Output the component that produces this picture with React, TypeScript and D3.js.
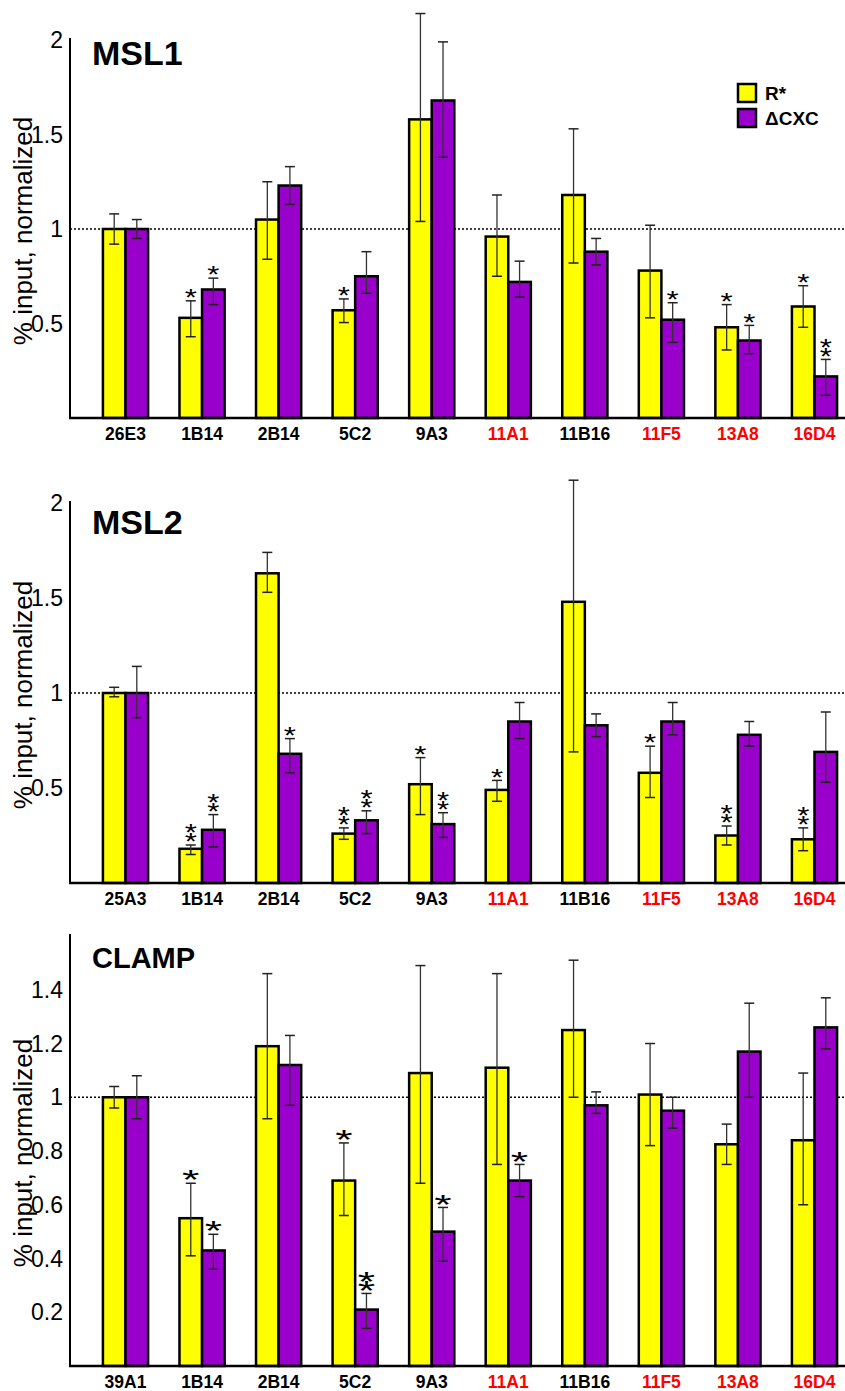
import { useEffect, useRef } from 'react'
import * as d3 from 'd3'

// Sites (x categories) of every panel
const sitesMSL1 = ['26E3', '1B14', '2B14', '5C2', '9A3', '11A1', '11B16', '11F5', '13A8', '16D4']
const sitesMSL2 = ['25A3', '1B14', '2B14', '5C2', '9A3', '11A1', '11B16', '11F5', '13A8', '16D4']
const sitesCLAMP = ['39A1', '1B14', '2B14', '5C2', '9A3', '11A1', '11B16', '11F5', '13A8', '16D4']
const redSites = ['11A1', '11F5', '13A8', '16D4']

// MSL1
const msl1R = [1.0, 0.53, 1.05, 0.57, 1.58, 0.96, 1.18, 0.78, 0.48, 0.59]
const msl1RErr = [[0.92, 1.08], [0.43, 0.62], [0.84, 1.25], [0.505, 0.63], [1.04, 2.14], [0.75, 1.18], [0.82, 1.53], [0.53, 1.02], [0.36, 0.6], [0.48, 0.7]]
const msl1C = [1.0, 0.68, 1.23, 0.75, 1.68, 0.72, 0.88, 0.52, 0.41, 0.22]
const msl1CErr = [[0.95, 1.05], [0.6, 0.74], [1.13, 1.33], [0.66, 0.88], [1.38, 1.99], [0.64, 0.83], [0.81, 0.95], [0.4, 0.61], [0.34, 0.49], [0.12, 0.31]]
const msl1RStars = [0, 1, 0, 1, 0, 0, 0, 0, 1, 1]
const msl1CStars = [0, 1, 0, 0, 0, 0, 0, 1, 1, 2]

// MSL2
const msl2R = [1.0, 0.18, 1.63, 0.26, 0.52, 0.49, 1.48, 0.58, 0.25, 0.23]
const msl2RErr = [[0.98, 1.03], [0.15, 0.2], [1.53, 1.74], [0.23, 0.29], [0.36, 0.66], [0.43, 0.54], [0.69, 2.12], [0.45, 0.72], [0.2, 0.3], [0.17, 0.29]]
const msl2C = [1.0, 0.28, 0.68, 0.33, 0.31, 0.85, 0.83, 0.85, 0.78, 0.69]
const msl2CErr = [[0.87, 1.14], [0.19, 0.36], [0.58, 0.76], [0.26, 0.38], [0.24, 0.37], [0.76, 0.95], [0.77, 0.89], [0.78, 0.95], [0.72, 0.85], [0.53, 0.9]]
const msl2RStars = [0, 2, 0, 2, 1, 1, 0, 1, 2, 2]
const msl2CStars = [0, 2, 1, 2, 2, 0, 0, 0, 0, 0]

// CLAMP
const clampR = [1.0, 0.55, 1.19, 0.69, 1.09, 1.11, 1.25, 1.01, 0.825, 0.84]
const clampRErr = [[0.96, 1.04], [0.41, 0.68], [0.92, 1.46], [0.56, 0.83], [0.68, 1.49], [0.75, 1.46], [1.0, 1.51], [0.82, 1.2], [0.75, 0.9], [0.6, 1.09]]
const clampC = [1.0, 0.43, 1.12, 0.21, 0.5, 0.69, 0.97, 0.95, 1.17, 1.26]
const clampCErr = [[0.92, 1.08], [0.36, 0.49], [0.97, 1.23], [0.14, 0.27], [0.39, 0.59], [0.63, 0.75], [0.94, 1.02], [0.885, 1.0], [1.0, 1.35], [1.18, 1.37]]
const clampRStars = [0, 1, 0, 1, 0, 0, 0, 0, 0, 0]
const clampCStars = [0, 1, 0, 2, 1, 1, 0, 0, 0, 0]

// Tick values
const ticksMSL = [0.5, 1, 1.5, 2]
const ticksCLAMP = [0.2, 0.4, 0.6, 0.8, 1, 1.2, 1.4]

const legendLabels = ['R*', '\u0394CXC']
const COLORS = ['#ffff00', '#9900cc']
const FONT = 'Arial, "Liberation Sans", Helvetica, sans-serif'

const W = 845
const H = 1391

const panels = [
  { title: 'MSL1', titleSize: 34, titleY: 65, sites: sitesMSL1, r: msl1R, rErr: msl1RErr, c: msl1C, cErr: msl1CErr, rStars: msl1RStars, cStars: msl1CStars, ticks: ticksMSL, yMax: 2, y0: 418, y1: 40, starSize: 24, starSx: 1.3, legend: true },
  { title: 'MSL2', titleSize: 34, titleY: 534, sites: sitesMSL2, r: msl2R, rErr: msl2RErr, c: msl2C, cErr: msl2CErr, rStars: msl2RStars, cStars: msl2CStars, ticks: ticksMSL, yMax: 2, y0: 883, y1: 503, starSize: 24, starSx: 1.3, legend: false },
  { title: 'CLAMP', titleSize: 29, titleY: 968, sites: sitesCLAMP, r: clampR, rErr: clampRErr, c: clampC, cErr: clampCErr, rStars: clampRStars, cStars: clampCStars, ticks: ticksCLAMP, yMax: 1.6, y0: 1366, y1: 936, starSize: 28, starSx: 1.6, legend: false },
]

const App = () => {
  const svgRef = useRef(null)

  useEffect(() => {
    const svg = d3.select(svgRef.current)
    svg.selectAll('*').remove()
    const axisX = 70

    panels.forEach((p) => {
      const g = svg.append('g')
      const x = d3.scaleBand().domain(p.sites).range([axisX, 870]).paddingInner(0.41).paddingOuter(0.43)
      const sub = d3.scaleBand().domain(['r', 'c']).range([0, x.bandwidth()])
      const y = d3.scaleLinear().domain([0, p.yMax]).range([p.y0, p.y1])

      // reference line at 1
      g.append('line')
        .attr('x1', axisX).attr('x2', W)
        .attr('y1', y(1)).attr('y2', y(1))
        .attr('stroke', '#000').attr('stroke-width', 1.6)
        .attr('stroke-dasharray', '2,2')

      const series = [
        { key: 'r', vals: p.r, err: p.rErr, stars: p.rStars, color: COLORS[0] },
        { key: 'c', vals: p.c, err: p.cErr, stars: p.cStars, color: COLORS[1] },
      ]

      series.forEach((s) => {
        const data = p.sites.map((site, i) => ({ site, v: s.vals[i], lo: s.err[i][0], hi: s.err[i][1], stars: s.stars[i] }))
        const cx = (d) => x(d.site) + sub(s.key) + sub.bandwidth() / 2

        g.selectAll(null).data(data).enter().append('rect')
          .attr('x', (d) => x(d.site) + sub(s.key))
          .attr('y', (d) => y(d.v))
          .attr('width', sub.bandwidth())
          .attr('height', (d) => y(0) - y(d.v))
          .attr('fill', s.color)
          .attr('stroke', '#000')
          .attr('stroke-width', 2.5)

        // error bars
        const eb = g.selectAll(null).data(data).enter().append('g')
        eb.append('line')
          .attr('x1', cx).attr('x2', cx)
          .attr('y1', (d) => y(d.lo)).attr('y2', (d) => y(d.hi))
          .attr('stroke', '#333').attr('stroke-width', 1.3)
        ;['lo', 'hi'].forEach((k) => {
          eb.append('line')
            .attr('x1', (d) => cx(d) - 5).attr('x2', (d) => cx(d) + 5)
            .attr('y1', (d) => y(d[k])).attr('y2', (d) => y(d[k]))
            .attr('stroke', '#222').attr('stroke-width', 1.5)
        })

        // significance asterisks (stacked in one text element)
        data.filter((d) => d.stars > 0).forEach((d) => {
          const ty = y(d.hi) + p.starSize * 0.22
          const t = g.append('text')
            .attr('transform', `translate(${cx(d)},${ty}) scale(${p.starSx},1)`)
            .attr('text-anchor', 'middle')
            .style('font-family', FONT)
            .style('font-size', `${p.starSize}px`)
            .style('fill', '#000')
          for (let k = d.stars - 1; k >= 0; k--) {
            t.append('tspan').attr('x', 0).attr('y', -k * 9).text('*')
          }
        })
      })

      // axes
      g.append('line')
        .attr('x1', axisX).attr('x2', axisX)
        .attr('y1', p.y1 - 2).attr('y2', p.y0 + 1)
        .attr('stroke', '#000').attr('stroke-width', 2)
      g.append('line')
        .attr('x1', axisX - 1).attr('x2', W)
        .attr('y1', p.y0).attr('y2', p.y0)
        .attr('stroke', '#000').attr('stroke-width', 2.5)

      // tick labels
      g.selectAll(null).data(p.ticks).enter().append('text')
        .attr('x', 63)
        .attr('y', (d) => y(d) + 8)
        .attr('text-anchor', 'end')
        .style('font-family', FONT)
        .style('font-size', '23px')
        .style('fill', '#000')
        .text((d) => String(d))

      // x labels
      g.selectAll(null).data(p.sites).enter().append('text')
        .attr('x', (d) => x(d) + x.bandwidth() / 2)
        .attr('y', p.y0 + 22)
        .attr('text-anchor', 'middle')
        .style('font-family', FONT)
        .style('font-size', '17.5px')
        .style('font-weight', 'bold')
        .style('fill', (d) => (redSites.includes(d) ? '#ff0000' : '#000'))
        .text((d) => d)

      // y title
      const midY = (p.y0 + p.y1) / 2 + 2
      g.append('text')
        .attr('transform', `translate(32,${midY}) rotate(-90)`)
        .attr('text-anchor', 'middle')
        .style('font-family', FONT)
        .style('font-size', '26px')
        .style('fill', '#000')
        .text('% input, normalized')

      // panel title
      g.append('text')
        .attr('x', 92)
        .attr('y', p.titleY)
        .style('font-family', FONT)
        .style('font-size', `${p.titleSize}px`)
        .style('font-weight', 'bold')
        .style('fill', '#000')
        .text(p.title)

      if (p.legend) {
        const lg = g.append('g')
        legendLabels.forEach((lab, i) => {
          lg.append('rect')
            .attr('x', 738).attr('y', 84 + i * 25)
            .attr('width', 18).attr('height', 18)
            .attr('fill', COLORS[i])
            .attr('stroke', '#000').attr('stroke-width', 2.5)
          lg.append('text')
            .attr('x', 765).attr('y', 100 + i * 25)
            .style('font-family', FONT)
            .style('font-size', '19px')
            .style('font-weight', 'bold')
            .style('fill', '#000')
            .text(lab)
        })
      }
    })
  }, [])

  return (
    <svg
      ref={svgRef}
      width={W}
      height={H}
      style={{ position: 'absolute', left: 0, top: 0, background: '#fff' }}
    />
  )
}

export default App
